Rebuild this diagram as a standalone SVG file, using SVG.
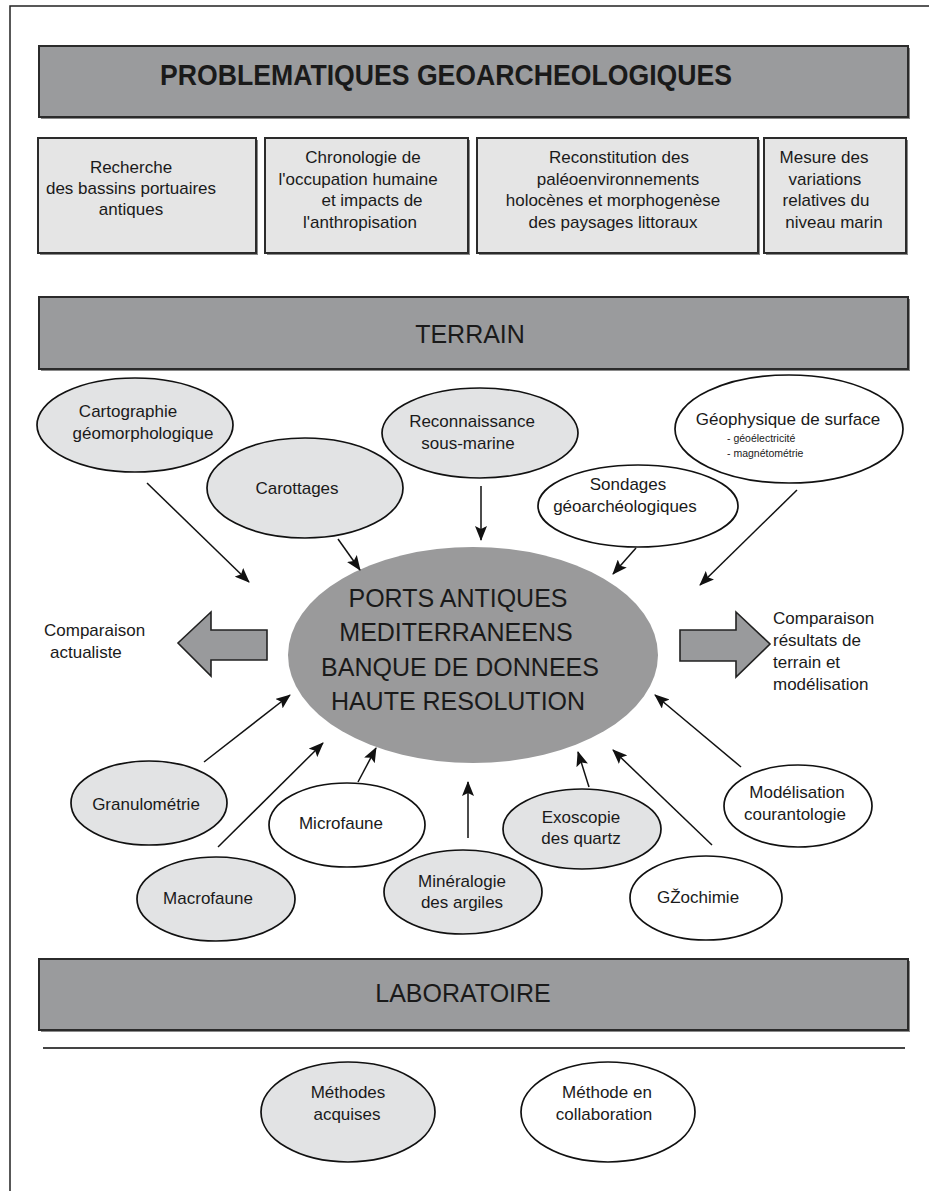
<svg xmlns="http://www.w3.org/2000/svg" width="929" height="1191" viewBox="0 0 929 1191">
<defs>
<style>
.band{fill:#9a9b9d;stroke:#2b2b2b;stroke-width:2}
.box{fill:#e5e5e5;stroke:#2b2b2b;stroke-width:2}
.shadow{fill:#8a8a8a;stroke:none}
.eg{fill:#e2e3e4;stroke:#111;stroke-width:1.7}
.ew{fill:#fff;stroke:#111;stroke-width:1.7}
.center{fill:#9a9a9b;stroke:none}
.t{font-family:'Liberation Sans',Arial,sans-serif;font-size:17px;fill:#1a1a1a;text-anchor:middle}
.l{text-anchor:start}
.s{font-size:10.5px}
.big{font-size:25px}
.title{font-weight:bold;font-size:29px;text-anchor:start}
.conn line{stroke:#111;stroke-width:1.5;marker-end:url(#ah)}
.block{fill:#999a9c;stroke:#222;stroke-width:1.6}
.frame{stroke:#222;stroke-width:1.5;fill:none}
</style>
<marker id="ah" markerUnits="userSpaceOnUse" markerWidth="15" markerHeight="12" refX="14" refY="6" orient="auto"><path d="M0,0 L15,6 L0,12 L3,6 z" fill="#111"/></marker>
</defs>
<rect width="929" height="1191" fill="#fff"/>
<path class="frame" d="M10,1191 V6 H929"/>

<g id="title">
<rect class="shadow" x="41" y="48" width="869" height="71"/>
<rect class="band" x="39" y="46" width="869" height="71"/>
<text class="t title" x="160" y="85" textLength="572" lengthAdjust="spacingAndGlyphs">PROBLEMATIQUES GEOARCHEOLOGIQUES</text>
</g>

<g id="box1">
<rect class="shadow" x="40" y="140" width="218" height="115"/>
<rect class="box" x="38" y="138" width="218" height="115"/>
<text class="t" x="131" y="173">Recherche</text>
<text class="t" x="131" y="194">des bassins portuaires</text>
<text class="t" x="131" y="215">antiques</text>
</g>
<g id="box2">
<rect class="shadow" x="267" y="140" width="203" height="115"/>
<rect class="box" x="265" y="138" width="203" height="115"/>
<text class="t" x="363" y="163">Chronologie de</text>
<text class="t" x="358" y="185">l'occupation humaine</text>
<text class="t" x="372" y="206">et impacts de</text>
<text class="t" x="360" y="228">l'anthropisation</text>
</g>
<g id="box3">
<rect class="shadow" x="479" y="140" width="281" height="115"/>
<rect class="box" x="477" y="138" width="281" height="115"/>
<text class="t" x="619" y="163">Reconstitution des</text>
<text class="t" x="618" y="185">paléoenvironnements</text>
<text class="t" x="613" y="206">holocènes et morphogenèse</text>
<text class="t" x="613" y="228">des paysages littoraux</text>
</g>
<g id="box4">
<rect class="shadow" x="766" y="140" width="142" height="115"/>
<rect class="box" x="764" y="138" width="142" height="115"/>
<text class="t" x="824" y="163">Mesure des</text>
<text class="t" x="825" y="185">variations</text>
<text class="t" x="826" y="206">relatives du</text>
<text class="t" x="834" y="228">niveau marin</text>
</g>

<g id="terrain">
<rect class="shadow" x="41" y="299" width="869" height="72"/>
<rect class="band" x="39" y="297" width="869" height="72"/>
<text class="t big" x="470" y="343">TERRAIN</text>
</g>

<g id="cartographie">
<ellipse class="eg" cx="135" cy="425" rx="98" ry="47"/>
<text class="t" x="128" y="417">Cartographie</text>
<text class="t" x="143" y="439">géomorphologique</text>
</g>
<g id="carottages">
<ellipse class="eg" cx="305" cy="488" rx="98" ry="50"/>
<text class="t" x="297" y="494">Carottages</text>
</g>
<g id="reconnaissance">
<ellipse class="eg" cx="480" cy="433" rx="98" ry="45"/>
<text class="t" x="472" y="427">Reconnaissance</text>
<text class="t" x="468" y="449">sous-marine</text>
</g>
<g id="geophysique">
<ellipse class="ew" cx="789" cy="429" rx="114" ry="54"/>
<text class="t" x="788" y="425">Géophysique de surface</text>
<text class="t s l" x="727" y="442">- géoélectricité</text>
<text class="t s l" x="727" y="457">- magnétométrie</text>
</g>
<g id="sondages">
<ellipse class="ew" cx="638" cy="506" rx="100" ry="41"/>
<text class="t" x="628" y="490">Sondages</text>
<text class="t" x="625" y="512">géoarchéologiques</text>
</g>

<g id="ports">
<ellipse class="center" cx="473" cy="655" rx="185" ry="108"/>
<text class="t big" x="458" y="607">PORTS ANTIQUES</text>
<text class="t big" x="456" y="641">MEDITERRANEENS</text>
<text class="t big" x="460" y="676">BANQUE DE DONNEES</text>
<text class="t big" x="458" y="710">HAUTE RESOLUTION</text>
</g>

<g id="comparaison-actualiste">
<path class="block" d="M267,630 H211 V612 L178,643 L211,676 V660 H267 Z"/>
<text class="t l" x="44" y="636">Comparaison</text>
<text class="t l" x="50" y="658">actualiste</text>
</g>
<g id="comparaison-modelisation">
<path class="block" d="M680,630 H736 V612 L770,644 L736,677 V661 H680 Z"/>
<text class="t l" x="773" y="624">Comparaison</text>
<text class="t l" x="773" y="646">résultats de</text>
<text class="t l" x="773" y="668">terrain et</text>
<text class="t l" x="773" y="690">modélisation</text>
</g>

<g id="granulometrie">
<ellipse class="eg" cx="149" cy="803" rx="78" ry="42"/>
<text class="t" x="146" y="810">Granulométrie</text>
</g>
<g id="macrofaune">
<ellipse class="eg" cx="216" cy="899" rx="79" ry="42"/>
<text class="t" x="208" y="904">Macrofaune</text>
</g>
<g id="microfaune">
<ellipse class="ew" cx="347" cy="825" rx="78" ry="42"/>
<text class="t" x="341" y="829">Microfaune</text>
</g>
<g id="mineralogie">
<ellipse class="eg" cx="463" cy="892" rx="79" ry="42"/>
<text class="t" x="462" y="887">Minéralogie</text>
<text class="t" x="462" y="908">des argiles</text>
</g>
<g id="exoscopie">
<ellipse class="eg" cx="582" cy="829" rx="79" ry="40"/>
<text class="t" x="581" y="823">Exoscopie</text>
<text class="t" x="581" y="844">des quartz</text>
</g>
<g id="geochimie">
<ellipse class="ew" cx="706" cy="898" rx="76" ry="42"/>
<text class="t" x="698" y="903">GŽochimie</text>
</g>
<g id="modelisation">
<ellipse class="ew" cx="798" cy="806" rx="74" ry="41"/>
<text class="t" x="797" y="798">Modélisation</text>
<text class="t" x="795" y="820">courantologie</text>
</g>

<g id="laboratoire">
<rect class="shadow" x="41" y="961" width="869" height="71"/>
<rect class="band" x="39" y="959" width="869" height="71"/>
<text class="t big" x="463" y="1002">LABORATOIRE</text>
</g>
<line x1="43" y1="1048" x2="905" y2="1048" stroke="#444" stroke-width="2"/>

<g id="methodes-acquises">
<ellipse class="eg" cx="348" cy="1112" rx="87" ry="50"/>
<text class="t" x="348" y="1098">Méthodes</text>
<text class="t" x="347" y="1120">acquises</text>
</g>
<g id="methode-collaboration">
<ellipse class="ew" cx="608" cy="1112" rx="87" ry="50"/>
<text class="t" x="607" y="1098">Méthode en</text>
<text class="t" x="604" y="1120">collaboration</text>
</g>

<g id="connectors" class="conn">
<line x1="147" y1="483" x2="249" y2="582"/>
<line x1="338" y1="539" x2="360" y2="570"/>
<line x1="481" y1="486" x2="481" y2="540"/>
<line x1="636" y1="548" x2="613" y2="574"/>
<line x1="797" y1="490" x2="700" y2="585"/>
<line x1="204" y1="762" x2="290" y2="695"/>
<line x1="218" y1="847" x2="323" y2="743"/>
<line x1="358" y1="782" x2="376" y2="748"/>
<line x1="468" y1="838" x2="468" y2="782"/>
<line x1="589" y1="787" x2="578" y2="752"/>
<line x1="712" y1="845" x2="613" y2="750"/>
<line x1="741" y1="767" x2="655" y2="695"/>
</g>
</svg>
